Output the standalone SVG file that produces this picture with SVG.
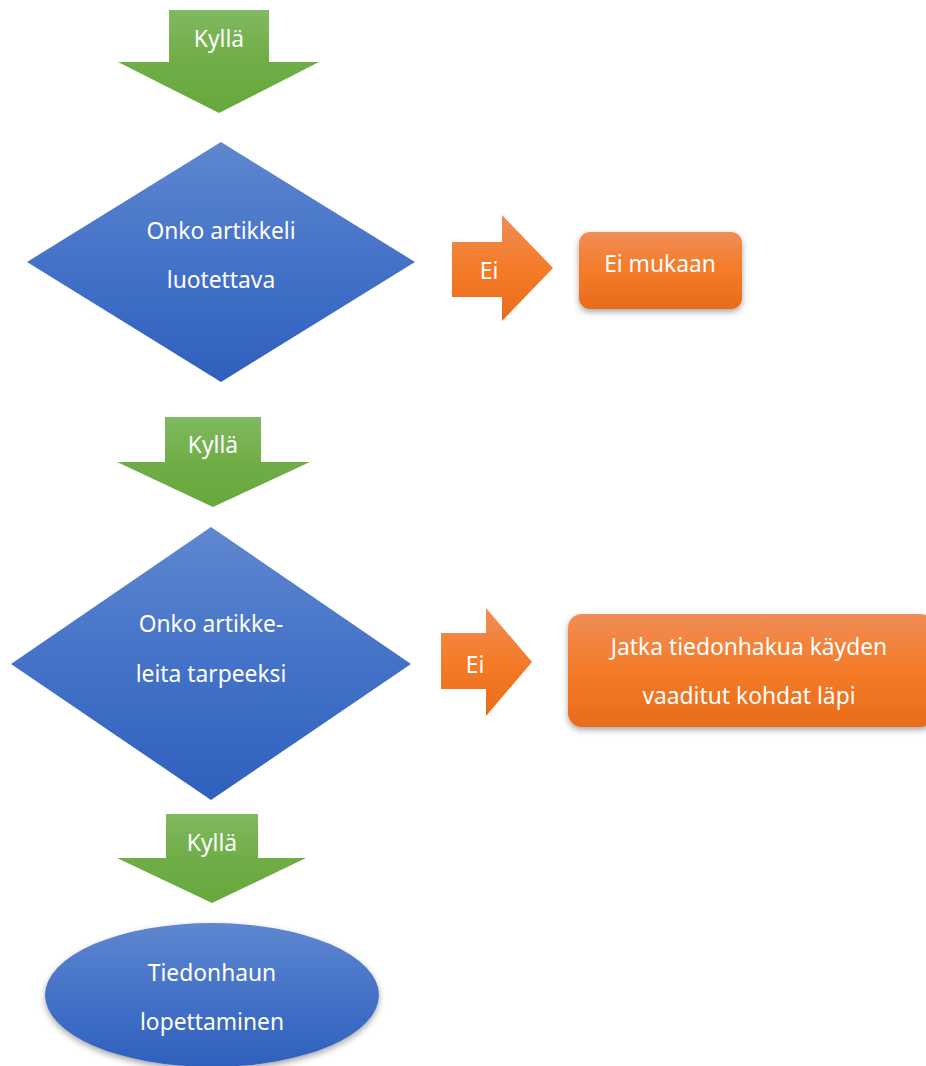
<svg xmlns="http://www.w3.org/2000/svg" width="926" height="1066" viewBox="0 0 926 1066">
<defs>
<linearGradient id="gBlue" x1="0" y1="0" x2="0" y2="1"><stop offset="0" stop-color="#5f87cf"/><stop offset="0.5" stop-color="#4472c8"/><stop offset="1" stop-color="#2f60bd"/></linearGradient>
<linearGradient id="gGreen" x1="0" y1="0" x2="0" y2="1"><stop offset="0" stop-color="#80b961"/><stop offset="0.5" stop-color="#70ad47"/><stop offset="1" stop-color="#66a93c"/></linearGradient>
<linearGradient id="gOrange" x1="0" y1="0" x2="0" y2="1"><stop offset="0" stop-color="#f08d57"/><stop offset="0.5" stop-color="#f47b29"/><stop offset="1" stop-color="#e96c1a"/></linearGradient>
<filter id="sh" x="-10%" y="-10%" width="130%" height="140%"><feDropShadow dx="0" dy="3" stdDeviation="3" flood-color="#000" flood-opacity="0.35"/></filter>
<style>
.t{font-family:"Noto Sans","Open Sans",sans-serif;font-size:22.8px;fill:#fff;text-anchor:middle;dominant-baseline:central}
.blue{fill:url(#gBlue)}
.green{fill:url(#gGreen)}
.orange{fill:url(#gOrange)}
</style>
</defs>
<g id="connectors">
<g id="yes1"><polygon class="green" points="169,10 269,10 269,62 319,62 219,113 118,62 169,62"/><text class="t" x="219" y="38">Kyllä</text></g>
<g id="no1"><polygon class="orange" points="452,242 502,242 502,215 553,268 502,321 502,297 452,297"/><text class="t" x="489" y="270">Ei</text></g>
<g id="yes2"><polygon class="green" points="165,417 261,417 261,462 310,462 213,507 117,462 165,462"/><text class="t" x="213" y="444">Kyllä</text></g>
<g id="no2"><polygon class="orange" points="441,633 486,633 486,608 532,662 486,716 486,689 441,689"/><text class="t" x="475" y="664">Ei</text></g>
<g id="yes3"><polygon class="green" points="166,814 258,814 258,858 306,858 212,903 117,858 166,858"/><text class="t" x="212" y="842">Kyllä</text></g>
</g>
<g id="decision1"><polygon class="blue" points="221,142 415,262 221,382 27,262"/><text class="t" x="221" y="230">Onko artikkeli</text><text class="t" x="221" y="279">luotettava</text></g>
<g id="exclude"><rect class="orange" filter="url(#sh)" x="579" y="232" width="163" height="77" rx="11"/><text class="t" x="660" y="263">Ei mukaan</text></g>
<g id="decision2"><polygon class="blue" points="211,527 411,664 211,800 11,664"/><text class="t" x="211" y="623">Onko artikke-</text><text class="t" x="211" y="673">leita tarpeeksi</text></g>
<g id="continue"><rect class="orange" filter="url(#sh)" x="568" y="614" width="366" height="113" rx="14"/><text class="t" x="749" y="646">Jatka tiedonhakua käyden</text><text class="t" x="749" y="695">vaaditut kohdat läpi</text></g>
<g id="end"><ellipse class="blue" filter="url(#sh)" cx="212" cy="995" rx="167" ry="72"/><text class="t" x="212" y="972">Tiedonhaun</text><text class="t" x="212" y="1021">lopettaminen</text></g>
</svg>
